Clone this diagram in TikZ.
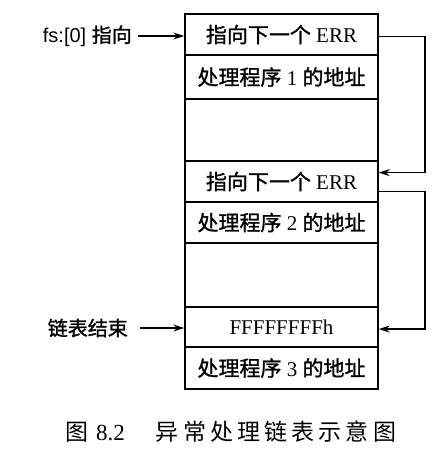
\documentclass[tikz,border=0pt]{standalone}
\usepackage{fontspec}
\setmainfont{Liberation Serif}
\newfontfamily\zhfont{Noto Sans CJK SC}[FakeBold=1.2]
\newfontfamily\zhcap{Noto Sans CJK SC}[LetterSpace=18]
\newfontfamily\labfont{Liberation Sans}
\usetikzlibrary{arrows.meta,calc}
\newcommand{\zh}[1]{{\zhfont #1}}

\tikzset{
  cell/.style={draw, line width=1.4pt, minimum width=193pt, inner sep=0pt,
    font=\fontsize{21}{24}\selectfont},
  link/.style={line width=1.3pt, -{Stealth[length=11pt,width=7pt,inset=3.5pt]}},
  side/.style={font=\fontsize{20}{24}\selectfont, inner sep=0pt}
}

\begin{document}
\begin{tikzpicture}[x=1pt,y=-1pt]
  \useasboundingbox (0,0) rectangle (440,464);

  % stack of exception records
  \node[cell, minimum height=41pt] (r1) at (281.5,34.5) {\zh{指向下一个} ERR};
  \node[cell, minimum height=44pt] (r2) at (281.5,77)   {\zh{处理程序} 1 \zh{的地址}};
  \node[cell, minimum height=62pt] (r3) at (281.5,130)  {};
  \node[cell, minimum height=41pt] (r4) at (281.5,181.5){\zh{指向下一个} ERR};
  \node[cell, minimum height=41pt] (r5) at (281.5,222.5){\zh{处理程序} 2 \zh{的地址}};
  \node[cell, minimum height=64pt] (r6) at (281.5,275)  {};
  \node[cell, minimum height=40pt] (r7) at (281.5,327)  {FFFFFFFFh};
  \node[cell, minimum height=42pt] (r8) at (281.5,368)  {\zh{处理程序} 3 \zh{的地址}};

  % labels on the left
  \node[side, anchor=east] (head) at (132,36) {\labfont fs:[0] \zh{指向}};
  \node[side, anchor=east] (tail) at (128,328) {\zh{链表结束}};

  \draw[link] (head.east) ++(6,0) coordinate (hs) (hs) -- (hs -| r1.west);
  \draw[link] (tail.east) ++(12,0) coordinate (ts) (ts) -- (ts -| r7.west);

  % chain links on the right
  \coordinate (rail) at (425,0);
  \coordinate (o1) at ($(r1.north east)!0.54!(r1.south east)$);
  \coordinate (i4) at ($(r4.north east)!0.29!(r4.south east)$);
  \coordinate (o4) at ($(r4.north east)!0.73!(r4.south east)$);
  \coordinate (i7) at ($(r7.north east)!0.55!(r7.south east)$);
  \draw[link] (o1) -- (o1 -| rail) |- (i4);
  \draw[link] (o4) -- (o4 -| rail) |- (i7);

  % caption
  \node[anchor=west, inner sep=0pt, font=\fontsize{23}{26}\selectfont] (cap) at (65,432)
    {\zhcap 图\hspace{8pt}\rmfamily 8.2\hspace{31pt}\zhcap 异常处理链表示意图};
\end{tikzpicture}
\end{document}
